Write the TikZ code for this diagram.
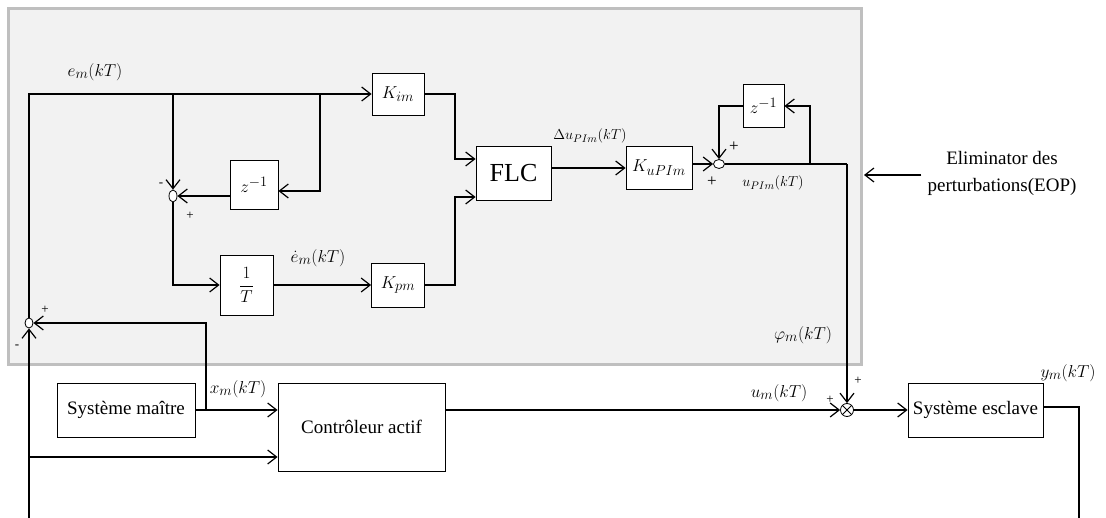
\documentclass[tikz,border=0pt]{standalone}
\usepackage{fontspec}
\setmainfont{Liberation Serif}
\usetikzlibrary{arrows.meta,positioning,shapes.geometric}

\tikzset{
  blk/.style={draw, fill=white, line width=0.8pt, inner sep=0pt, font=\fontsize{19}{22}\selectfont},
  sig/.style={line width=1.2pt, -{Straight Barb[length=9pt,width=14pt]}},
  wire/.style={line width=1.2pt},
  sumn/.style={draw, fill=white, ellipse, line width=0.8pt, inner sep=0pt},
  lbl/.style={inner sep=0pt, font=\fontsize{19}{22}\selectfont},
  sgn/.style={inner sep=0pt, font=\fontsize{13}{14}\selectfont}
}

\begin{document}
\begin{tikzpicture}[x=1pt, y=-1pt]
    \useasboundingbox (0,0) rectangle (1106,518);

    % grey frame of the controller
    \draw[fill=gray!10, draw=gray!50, line width=3pt] (8,9) rectangle (861,365);

    \def\jx{455}

    % blocks
    \node[blk, minimum width=52, minimum height=42] (Kim) at (398,94) {$K_{im}$};
    \node[blk, minimum width=48, minimum height=49] (zA) at (254,185) {$z^{-1}$};
    \node[blk, minimum width=53, minimum height=60] (invT) at (246.5,285) {$\displaystyle\frac{1}{T}$};
    \node[blk, minimum width=53, minimum height=44] (Kpm) at (398,285) {$K_{pm}$};
    \node[blk, minimum width=75, minimum height=54, font=\fontsize{26}{28}\selectfont] (flc) at (513.5,173) {FLC};
    \node[blk, minimum width=66, minimum height=43] (Kupi) at (659,168) {$K_{uPIm}$};
    \node[blk, minimum width=41, minimum height=43] (zB) at (763.5,106) {$z^{-1}$};
    \node[blk, minimum width=138, minimum height=54] (maitre) at (126,410) {Système maître};
    \node[blk, minimum width=167, minimum height=88] (ctrl) at (361.5,427) {Contrôleur actif};
    \node[blk, minimum width=135, minimum height=54] (esclave) at (975.5,410) {Système esclave};

    % summing points
    \node[sumn, minimum width=8, minimum height=10] (sL) at (29,323) {};
    \node[sumn, minimum width=8, minimum height=12] (sA) at (173,196) {};
    \node[sumn, minimum width=11, minimum height=9] (sB) at (719,164) {};
    \node[draw, circle, fill=white, minimum size=13, inner sep=0pt, line width=0.8pt] (mix) at (847,410) {};
    \draw[line width=0.8pt] (mix.north east) -- (mix.south west) (mix.north west) -- (mix.south east);

    % branch points
    \coordinate (top) at (29,94);
    \coordinate (brA) at (173,94);
    \coordinate (brB) at (320,94);
    \coordinate (brC) at (810,164);
    \coordinate (jB) at (847,164);
    \coordinate (brX) at (206,410);
    \coordinate (brY) at (29,457);
    \coordinate (bot) at (29,518);
    \coordinate (yout) at (1079,518);

    % signals
    \draw[sig] (sL.north) -- (top) -- (Kim.west);
    \draw[sig] (brA) -- (sA.north);
    \draw[sig] (brB) |- ([yshift=-6pt]zA.east);
    \draw[sig] ([yshift=-11pt]zA.west) -- (sA.east);
    \draw[sig] (sA.south) |- (invT.west);
    \draw[sig] (invT.east) -- (Kpm.west);
    \draw[sig] (Kim.east) -- (\jx,94) |- ([yshift=14pt]flc.west);
    \draw[sig] (Kpm.east) -- (\jx,285) |- ([yshift=-24pt]flc.west);
    \draw[sig] (Kupi.west -| flc.east) -- (Kupi.west);
    \draw[sig] (Kupi.east |- sB) -- (sB.west);
    \draw[wire] (sB.east) -- (jB);
    \draw[sig] (brC) |- (zB.east);
    \draw[sig] (zB.west) -| (sB.north);
    \draw[sig] (jB) -- (mix.north);
    \draw[sig] (mix.east) -- (esclave.west);
    \draw[wire] ([yshift=3pt]esclave.east) -| (yout);
    \draw[sig] (ctrl.east |- mix) -- (mix.west);
    \draw[sig] (maitre.east) -- (maitre.east -| ctrl.west);
    \draw[sig] (brX) |- (sL.east);
    \draw[sig] (bot) -- (sL.south);
    \draw[sig] (brY) -- (brY -| ctrl.west);

    % disturbance eliminator
    \node[inner sep=6pt, align=center, font=\fontsize{19}{27}\selectfont] (eop) at (1002,173) {Eliminator des\\perturbations(EOP)};
    \coordinate (eopin) at (864,175);
    \draw[sig] (eop.west |- eopin) -- (eopin);

    % signal names
    \node[lbl] (em) at (95,72) {$e_m(kT)$};
    \node[lbl] (emdot) at (318,258) {$\dot{e}_m(kT)$};
    \node[lbl, font=\fontsize{15}{17}\selectfont] (du) at (590,136) {$\Delta u_{PIm}(kT)$};
    \node[lbl, font=\fontsize{15}{17}\selectfont] (upi) at (773,183) {$u_{PIm}(kT)$};
    \node[lbl] (phi) at (803,335) {$\varphi_m(kT)$};
    \node[lbl] (xm) at (238,389) {$x_m(kT)$};
    \node[lbl] (um) at (779,393) {$u_m(kT)$};
    \node[lbl] (ym) at (1068,373) {$y_m(kT)$};

    % signs
    \node[sgn] at (45,310) {+};
    \node[sgn] at (17,347) {-};
    \node[sgn] at (161,185) {-};
    \node[sgn] at (190,216) {+};
    \node[sgn, font=\fontsize{17}{18}\selectfont] at (734,147) {+};
    \node[sgn, font=\fontsize{17}{18}\selectfont] at (712,182) {+};
    \node[sgn] at (830,400) {+};
    \node[sgn] at (858,381) {+};

\end{tikzpicture}
\end{document}
